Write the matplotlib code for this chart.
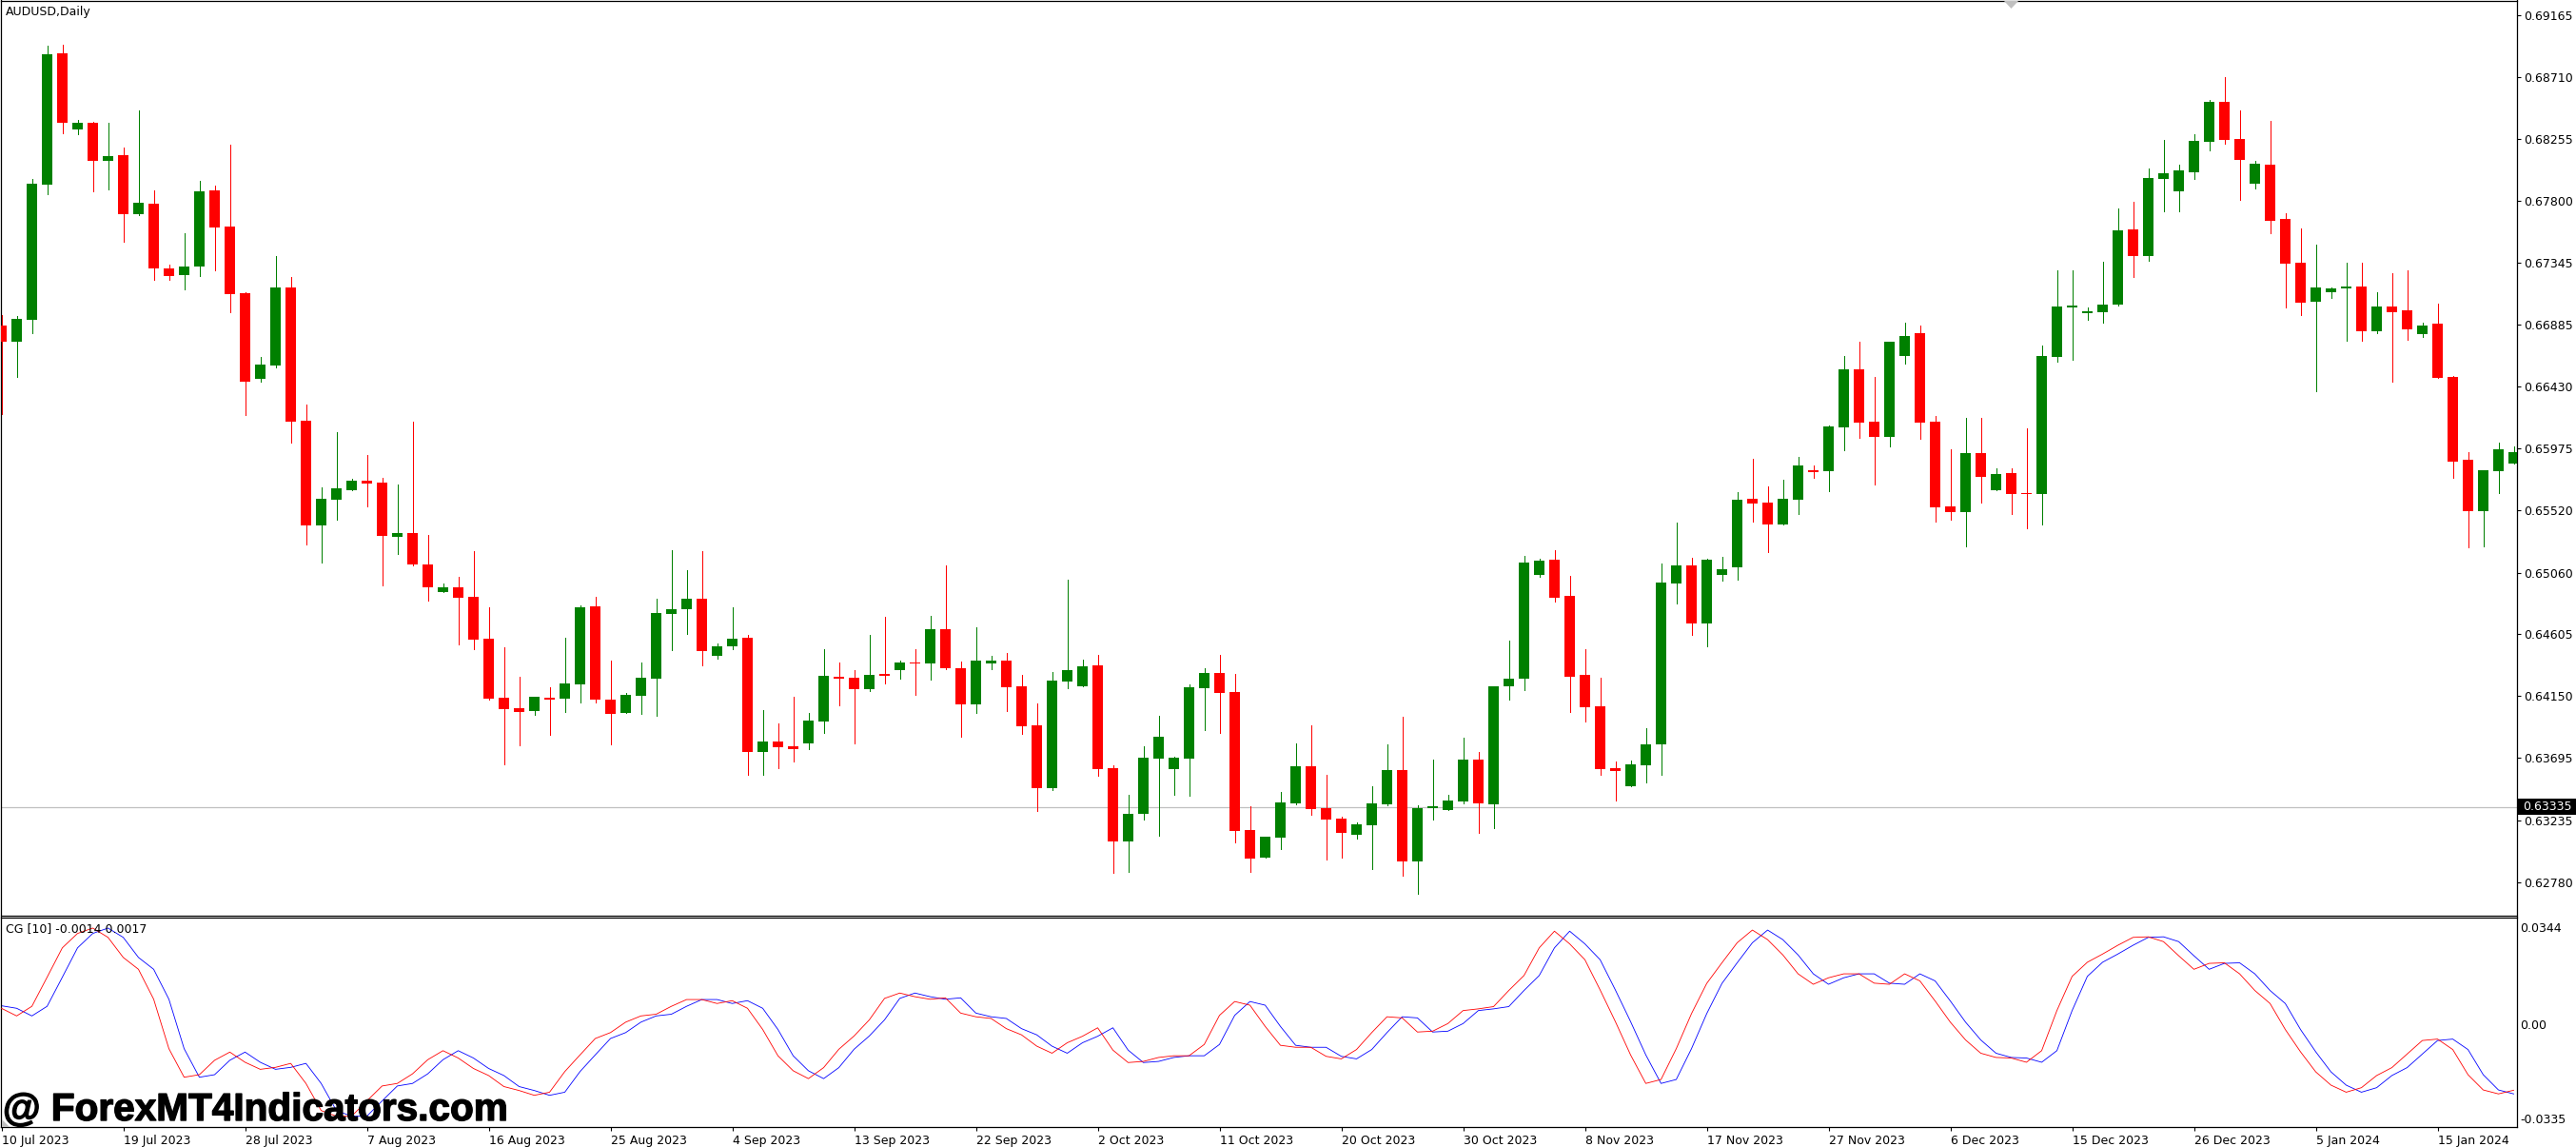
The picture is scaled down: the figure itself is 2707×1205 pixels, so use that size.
import numpy as np
import matplotlib
matplotlib.use('Agg')
import matplotlib.pyplot as plt
import matplotlib.patheffects as pe
from matplotlib.patches import Polygon, Rectangle

# AUDUSD daily candles, prices in 1e-5 units
opens = [66878,66759,66920,67916,68884,68323,68372,68092,68134,67699,
67776,67299,67250,67313,67874,67608,67117,66485,66584,67159,
66177,65405,65595,65665,65735,65721,65321,65349,65118,64914,
64949,64879,64571,64136,64059,64038,64136,64129,64234,64809,
64122,64024,64150,64276,64753,64788,64865,64445,64515,64578,
63736,63813,63778,63799,63960,64290,64283,64199,64311,64340,
64396,64389,64641,64354,64087,64389,64410,64220,63932,63476,
64255,64220,64374,63617,63077,63280,63687,63610,63687,64206,
64318,64178,63161,62964,63105,63364,63631,63329,63245,63126,
63196,63357,63603,62936,63329,63315,63378,63680,63357,64220,
64276,65041,65153,64886,64304,64073,63617,63490,63638,63792,
64977,65111,64683,65041,65097,65602,65574,65412,65595,65812,
65805,66128,66556,66170,66057,66654,66822,66170,65546,65505,
65938,65665,65791,65644,65637,66647,67012,66969,66976,67033,
67587,67390,67958,67867,68007,68232,68527,68253,67923,68064,
67664,67341,67054,67124,67152,67166,66836,67019,66990,66815,
66892,66499,65889,65512,65805,65861]
highs = [66955,66948,67958,68940,68947,68393,68379,68372,68190,68463,
67874,67327,67559,67944,67909,68211,67124,66647,67390,67236,
66296,65686,66093,65749,65924,65756,65707,66170,65335,64977,
65027,65216,64802,64508,64290,64143,64213,64578,64816,64879,
64410,64171,64396,64865,65223,65076,65216,64536,64802,64599,
64045,63946,64143,64024,64494,64396,64340,64599,64732,64410,
64494,64739,65111,64403,64655,64445,64466,64304,64094,64325,
65006,64417,64452,63638,63427,63778,64003,63701,64234,64354,
64452,64311,63343,63112,63448,63799,63932,63568,63259,63217,
63490,63792,63996,63350,63680,63427,63841,63736,64220,64557,
65181,65160,65223,65034,64494,64283,63666,63673,63911,65125,
65426,65167,65160,65174,65651,65896,65693,65742,65910,65847,
66142,66654,66759,66499,66759,66899,66878,66212,65966,66198,
66198,65826,65826,66121,66731,67285,67285,67012,67348,67741,
67790,68036,68246,68064,68288,68541,68709,68463,68092,68386,
67706,67594,67474,67159,67341,67341,67124,67264,67285,66899,
67040,66506,65945,65812,66015,65987]
lows = [66226,66499,66822,67846,68295,68288,67867,67881,67495,67692,
67215,67215,67145,67243,67285,66976,66219,66464,66570,66015,
65265,65132,65447,65665,65546,64963,65195,65111,64851,64914,
64529,64494,64122,63645,63785,64010,63862,64031,64101,64101,
63792,64024,64017,64003,64487,64606,64374,64424,64494,63568,
63568,63617,63666,63757,63876,64080,63799,64185,64241,64276,
64157,64269,64347,63848,64024,64347,64038,63869,63308,63462,
64206,64220,63561,62852,62859,63238,63119,63427,63420,63897,
63876,63070,62859,62964,63021,63357,63273,62950,62964,63098,
62880,63350,62831,62698,63238,63315,63364,63140,63175,64122,
64192,65027,64844,64031,63960,63568,63385,63490,63518,63568,
64830,64599,64515,64999,65006,65433,65209,65412,65491,65756,
65658,65959,66050,65707,65987,66598,66043,65433,65447,65251,
65574,65665,65491,65384,65412,66612,66626,66920,66899,67026,
67236,67355,67720,67720,67958,68169,68218,67804,67888,67559,
67012,66955,66394,67081,66766,66766,66822,66464,66773,66794,
66492,65756,65244,65251,65644,65861]
closes = [66759,66927,67923,68877,68372,68372,68092,68127,67699,67783,
67299,67243,67313,67867,67601,67110,66464,66591,67159,66170,
65405,65602,65679,65735,65714,65328,65349,65118,64949,64949,
64872,64564,64129,64052,64031,64143,64122,64241,64802,64122,
64017,64157,64283,64760,64788,64865,64480,64515,64571,63736,
63813,63771,63757,63967,64297,64276,64199,64304,64297,64396,
64389,64641,64354,64087,64410,64410,64213,63925,63476,64262,
64340,64368,63610,63077,63287,63694,63848,63694,64213,64318,
64171,63154,62957,63112,63371,63631,63322,63238,63140,63203,
63364,63603,62936,63329,63343,63385,63680,63364,64220,64276,
65132,65146,64872,64290,64066,63610,63596,63645,63792,64984,
65111,64683,65153,65083,65595,65567,65412,65602,65847,65798,
66135,66556,66163,66057,66759,66801,66163,65539,65505,65938,
65763,65784,65637,65637,66654,67019,67026,66983,67033,67580,
67390,67965,68000,68022,68239,68527,68246,68099,68071,67650,
67334,67047,67159,67152,67166,66836,67019,66976,66850,66878,
66492,65875,65512,65812,65966,65945]

# CG [10] indicator, red line and its blue signal line
cg_red = [.0056,.0029,.0063,.0166,.0270,.0321,.0340,.0307,.0236,.0194,
.0088,-.0087,-.0188,-.0179,-.0128,-.0099,-.0135,-.0160,-.0153,-.0139,
-.0210,-.0306,-.0326,-.0326,-.0272,-.0219,-.0210,-.0176,-.0126,-.0094,
-.0120,-.0157,-.0182,-.0221,-.0235,-.0252,-.0241,-.0168,-.0109,-.0051,
-.0030,.0007,.0029,.0035,.0063,.0087,.0087,.0073,.0083,.0056,
-.0019,-.0112,-.0165,-.0193,-.0154,-.0089,-.0042,.0015,.0091,.0110,
.0097,.0088,.0093,.0039,.0026,.0020,-.0016,-.0038,-.0078,-.0103,
-.0066,-.0043,-.0013,-.0092,-.0136,-.0132,-.0118,-.0112,-.0112,-.0072,
.0031,.0080,.0067,-.0008,-.0075,-.0082,-.0082,-.0114,-.0123,-.0090,
-.0030,.0026,.0022,-.0028,-.0025,.0002,.0048,.0054,.0062,.0119,
.0172,.0270,.0329,.0284,.0228,.0121,.0009,-.0109,-.0210,-.0196,
-.0087,.0037,.0144,.0217,.0288,.0333,.0299,.0245,.0178,.0141,
.0164,.0178,.0178,.0145,.0141,.0178,.0153,.0082,.0007,-.0056,
-.0103,-.0118,-.0120,-.0135,-.0094,.0048,.0169,.0219,.0248,.0279,
.0307,.0309,.0292,.0242,.0194,.0215,.0217,.0178,.0119,.0073,
-.0019,-.0098,-.0169,-.0216,-.0241,-.0225,-.0182,-.0154,-.0106,-.0058,
-.0053,-.0090,-.0179,-.0233,-.0247,-.0234]
cg_blue = [.0065,.0056,.0029,.0063,.0166,.0270,.0321,.0340,.0307,.0236,
.0194,.0088,-.0087,-.0188,-.0179,-.0128,-.0099,-.0135,-.0160,-.0153,
-.0139,-.0210,-.0306,-.0326,-.0326,-.0272,-.0219,-.0210,-.0176,-.0126,
-.0094,-.0120,-.0157,-.0182,-.0221,-.0235,-.0252,-.0241,-.0168,-.0109,
-.0051,-.0030,.0007,.0029,.0035,.0063,.0087,.0087,.0073,.0083,
.0056,-.0019,-.0112,-.0165,-.0193,-.0154,-.0089,-.0042,.0015,.0091,
.0110,.0097,.0088,.0093,.0039,.0026,.0020,-.0016,-.0038,-.0078,
-.0103,-.0066,-.0043,-.0013,-.0092,-.0136,-.0132,-.0118,-.0112,-.0112,
-.0072,.0031,.0080,.0067,-.0008,-.0075,-.0082,-.0082,-.0114,-.0123,
-.0090,-.0030,.0026,.0022,-.0028,-.0025,.0002,.0048,.0054,.0062,
.0119,.0172,.0270,.0329,.0284,.0228,.0121,.0009,-.0109,-.0210,
-.0196,-.0087,.0037,.0144,.0217,.0288,.0333,.0299,.0245,.0178,
.0141,.0164,.0178,.0178,.0145,.0141,.0178,.0153,.0082,.0007,
-.0056,-.0103,-.0118,-.0120,-.0135,-.0094,.0048,.0169,.0219,.0248,
.0279,.0307,.0309,.0292,.0242,.0194,.0215,.0217,.0178,.0119,
.0073,-.0019,-.0098,-.0169,-.0216,-.0241,-.0225,-.0182,-.0154,-.0106,
-.0058,-.0053,-.0090,-.0179,-.0233,-.0247]

price_ticks = [0.69165,0.68710,0.68255,0.67800,0.67345,0.66885,0.66430,0.65975,
               0.65520,0.65060,0.64605,0.64150,0.63695,0.63235,0.62780]
price_labels = ['%.5f' % p for p in price_ticks]
current_price = 0.63335
cg_ticks = [0.0344, 0.0, -0.0335]
cg_labels = ['0.0344', '0.00', '-0.0335']
date_labels = ['10 Jul 2023','19 Jul 2023','28 Jul 2023','7 Aug 2023','16 Aug 2023',
               '25 Aug 2023','4 Sep 2023','13 Sep 2023','22 Sep 2023','2 Oct 2023',
               '11 Oct 2023','20 Oct 2023','30 Oct 2023','8 Nov 2023','17 Nov 2023',
               '27 Nov 2023','6 Dec 2023','15 Dec 2023','26 Dec 2023','5 Jan 2024',
               '15 Jan 2024']

W, H = 2707, 1205
GREEN = '#008000'
RED = '#ff0000'
FS = 9.0
THIN = 0.7

o = np.array(opens) / 1e5
h = np.array(highs) / 1e5
l = np.array(lows) / 1e5
c = np.array(closes) / 1e5
x = np.arange(len(o))
colors = [GREEN if cl > op else RED for op, cl in zip(o, c)]

plt.rcParams['font.family'] = 'DejaVu Sans'
plt.rcParams['font.size'] = FS

fig = plt.figure(figsize=(W / 100, H / 100), dpi=100, facecolor='white')


def px_axes(left, top, right, bottom):
    return fig.add_axes([left / W, 1 - bottom / H, (right - left) / W, (bottom - top) / H])


ax = px_axes(1, 0.5, 2644.5, 961.5)
ax2 = px_axes(1, 963.5, 2644.5, 1184)

xlim = ((1 - 1.5) / 16, (2644.5 - 1.5) / 16)

# candles
ax.axhline(current_price, color='#c0c0c0', lw=0.9, zorder=1)
ax.vlines(x, l, h, colors=colors, lw=THIN, antialiased=False, zorder=2)
ax.bar(x, np.abs(c - o), bottom=np.minimum(o, c), width=11.5 / 16, color=colors,
       linewidth=0, antialiased=False, zorder=3)
ax.set_xlim(xlim)
ax.set_ylim(0.62537, 0.69273)
ax.set_xticks([])
ax.yaxis.tick_right()
ax.set_yticks(price_ticks, price_labels)
ax.tick_params(axis='y', length=3, width=0.8, pad=2.2, labelsize=FS)
ax.text(4.5 / 2643.5, 1 - 12 / 961, 'AUDUSD,Daily', transform=ax.transAxes,
        va='center', ha='left', fontsize=FS, color='black')

# indicator
ax2.plot(x, cg_blue, color='#0000ff', lw=0.6, zorder=2)
ax2.plot(x, cg_red, color='#ff0000', lw=0.6, zorder=3)
ax2.set_xlim(xlim)
ax2.set_ylim(-0.03642, 0.03787)
ax2.yaxis.tick_right()
ax2.set_yticks(cg_ticks, cg_labels)
ax2.tick_params(axis='y', length=0, pad=2.8, labelsize=FS)
ax2.set_xticks(x[::8], date_labels)
ax2.tick_params(axis='x', length=3, width=0.8, pad=2.5, labelsize=FS)
for t in ax2.get_xticklabels():
    t.set_ha('left')
ax2.text(4.5 / 2643.5, 1 - 12.5 / 220.5, 'CG [10] -0.0014 0.0017', transform=ax2.transAxes,
         va='center', ha='left', fontsize=FS, color='black', zorder=5)

for a in (ax, ax2):
    for s in a.spines.values():
        s.set_linewidth(0.9)
        s.set_color('black')

# current price tag
fig.add_artist(Rectangle((2646 / W, 1 - 856 / H), 61 / W, 17 / H, transform=fig.transFigure,
                         facecolor='black', edgecolor='none', zorder=10))
fig.text(2651 / W, 1 - 847.5 / H, '%.5f' % current_price, color='white', fontsize=FS,
         va='center', ha='left', zorder=11)

# shift markers
fig.add_artist(Polygon([(2106 / W, 1 - 1 / H), (2121 / W, 1 - 1 / H), (2113.5 / W, 1 - 9 / H)],
                       transform=fig.transFigure, facecolor='#c0c0c0', edgecolor='none', zorder=10))
fig.add_artist(Polygon([(2 / W, 1 - 1176 / H), (2 / W, 1 - 1184 / H), (10 / W, 1 - 1184 / H)],
                       transform=fig.transFigure, facecolor='#c0c0c0', edgecolor='none', zorder=10))

# watermark
wm = fig.text(3 / W, 1 - 1166 / H, '@ ForexMT4Indicators.com', color='black', fontsize=29.2,
              family='Liberation Sans', weight='bold', va='center', ha='left', zorder=12)
wm.set_path_effects([pe.withStroke(linewidth=1.0, foreground='black')])

fig.savefig('out.png', dpi=100, facecolor='white')
